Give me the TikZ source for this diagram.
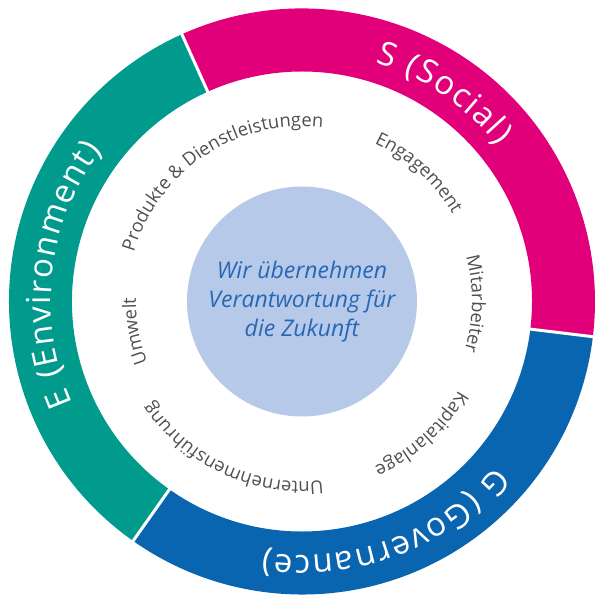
\documentclass[tikz,border=0pt]{standalone}
\usepackage{fontspec}
\setmainfont{Open Sans}
\usetikzlibrary{decorations.text}

\definecolor{envgreen}{RGB}{0,155,141}
\definecolor{socmagenta}{RGB}{226,0,122}
\definecolor{govblue}{RGB}{10,101,176}
\definecolor{corefill}{RGB}{183,201,232}
\definecolor{coretext}{RGB}{38,104,182}
\definecolor{labelgray}{RGB}{80,80,80}

\tikzset{
  segment/.style={fill=#1, draw=none},
  gap/.style={draw=white, line width=1.5pt},
  ringtext/.style={decorate, decoration={text along path, text align=center,
      text color=white, text={|\fontsize{16.5}{20}\selectfont\kern0.8pt|#1}}},
  areatext/.style={decorate, decoration={text along path, text align=center,
      text color=labelgray, text={|\fontsize{9.2}{11}\selectfont|#1}}},
  core/.style={circle, fill=corefill, minimum size=115pt, inner sep=0pt, align=center,
      text=coretext, font=\itshape\fontsize{11.5}{14.5}\selectfont}
}

\begin{document}
\begin{tikzpicture}[x=0.5pt, y=0.5pt]
    \useasboundingbox (-302,-295.5) rectangle (296,301.5);

    % ring
    \fill[segment=socmagenta] (-6.9:230) arc[start angle=-6.9, end angle=114.2, radius=230]
        -- (114.2:293) arc[start angle=114.2, end angle=-6.9, radius=293] -- cycle;
    \fill[segment=envgreen] (114.2:230) arc[start angle=114.2, end angle=234.8, radius=230]
        -- (234.8:293) arc[start angle=234.8, end angle=114.2, radius=293] -- cycle;
    \fill[segment=govblue] (234.8:230) arc[start angle=234.8, end angle=353.1, radius=230]
        -- (353.1:293) arc[start angle=353.1, end angle=234.8, radius=293] -- cycle;
    \draw[gap] (114.2:226) -- (114.2:297);
    \draw[gap] (234.8:226) -- (234.8:297);
    \draw[gap] (-6.9:226) -- (-6.9:297);

    \path[ringtext={E (Environment)}] (233.6:251) arc[start angle=233.6, end angle=113.6, radius=251];
    \path[ringtext={S (Social)}] (115.9:250) arc[start angle=115.9, end angle=-4.1, radius=250];
    \path[ringtext={G (Governance)}] (-9.4:254) arc[start angle=-9.4, end angle=-129.4, radius=254];

    % areas
    \path[areatext={Produkte {\&} Dienstleistungen}] (183.4:175) arc[start angle=183.4, end angle=63.4, radius=175];
    \path[areatext={Engagement}] (87.7:174) arc[start angle=87.7, end angle=7.7, radius=174];
    \path[areatext={Mitarbeiter}] (39.2:170) arc[start angle=39.2, end angle=-40.8, radius=170];
    \path[areatext={Kapitalanlage}] (-8:180) arc[start angle=-8, end angle=-88, radius=180];
    \path[areatext={Unternehmensführung}] (-74.9:180) arc[start angle=-74.9, end angle=-154.9, radius=180];
    \path[areatext={Umwelt}] (230.1:166) arc[start angle=230.1, end angle=150.1, radius=166];

    \node[core] (core) at (0,0) {Wir übernehmen\\Verantwortung für\\die Zukunft};
\end{tikzpicture}
\end{document}
